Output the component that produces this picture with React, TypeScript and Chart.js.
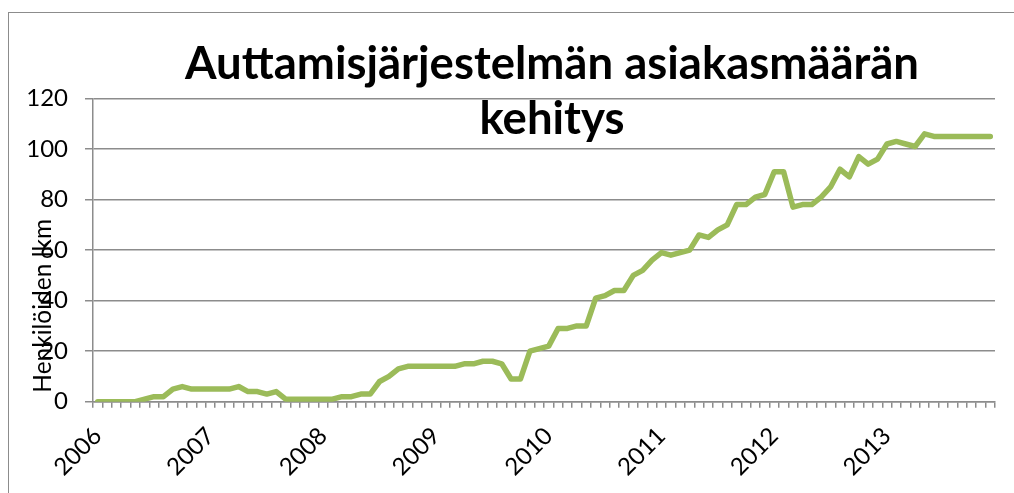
import React, { useEffect, useRef } from 'react';
import { Chart, registerables } from 'chart.js';

Chart.register(...registerables);

// ---- data ----
const years = ['2006', '2007', '2008', '2009', '2010', '2011', '2012', '2013'];
const monthNumbers = ['1', '2', '3', '4', '5', '6', '7', '8', '9', '10', '11', '12'];
const categories = years.flatMap((y) => monthNumbers.map((m) => `${m}/${y}`));

// monthly client counts, Jan 2006 .. Dec 2013
const clients = [
  0, 0, 0, 0, 0, 1, 2, 2, 5, 6, 5, 5,
  5, 5, 5, 6, 4, 4, 3, 4, 1, 1, 1, 1,
  1, 1, 2, 2, 3, 3, 8, 10, 13, 14, 14, 14,
  14, 14, 14, 15, 15, 16, 16, 15, 9, 9, 20, 21,
  22, 29, 29, 30, 30, 41, 42, 44, 44, 50, 52, 56,
  59, 58, 59, 60, 66, 65, 68, 70, 78, 78, 81, 82,
  91, 91, 77, 78, 78, 81, 85, 92, 89, 97, 94, 96,
  102, 103, 102, 101, 106, 105, 105, 105, 105, 105, 105, 105,
];

const titleLines = ['Auttamisjärjestelmän asiakasmäärän', 'kehitys'];
const yAxisTitle = 'Henkilöiden lkm';
const yMin = 0;
const yMax = 120;
const yStep = 20;

const FONT = 'Lato, "Open Sans", sans-serif';
const GRID = '#8c8c8c';
const LINE = '#9bbb59';

const layoutTweaks = {
  id: 'layoutTweaks',
  afterLayout(chart: any) {
    const tb = chart.titleBlock;
    if (tb) {
      tb.left += 8;
      tb.right += 8;
    }
  },
  beforeDraw(chart: any) {
    const s = chart.scales.y;
    if (s && !s._titleWrapped) {
      const orig = s.drawTitle.bind(s);
      s.drawTitle = () => {
        const c = chart.ctx;
        c.save();
        c.translate(0, -9);
        orig();
        c.restore();
      };
      s._titleWrapped = true;
    }
  },
};

export default function App() {
  const ref = useRef<HTMLCanvasElement | null>(null);

  useEffect(() => {
    if (!ref.current) return;
    const chart = new Chart(ref.current, {
      type: 'line',
      data: {
        labels: categories,
        datasets: [
          {
            label: yAxisTitle,
            data: clients,
            borderColor: LINE,
            backgroundColor: LINE,
            borderWidth: 5.5,
            pointRadius: 0,
            tension: 0,
            borderJoinStyle: 'round',
            borderCapStyle: 'round',
            fill: false,
          },
        ],
      },
      options: {
        animation: false,
        responsive: false,
        maintainAspectRatio: false,
        layout: { padding: { left: 0, top: 0, right: 19, bottom: 0 } },
        plugins: {
          legend: { display: false },
          tooltip: { enabled: false },
          title: {
            display: true,
            text: titleLines,
            color: '#000',
            fullSize: false,
            font: { family: FONT, size: 45.5, weight: 'bold', lineHeight: 1.2 },
            padding: { top: 37, bottom: -47.7 },
          },
        },
        scales: {
          x: {
            type: 'category',
            offset: true,
            grid: {
              display: true,
              drawOnChartArea: false,
              drawTicks: true,
              tickLength: 6,
              color: GRID,
              lineWidth: 1.5,
              offset: true,
            },
            border: { display: true, color: GRID, width: 1.5 },
            ticks: {
              autoSkip: false,
              maxRotation: 45,
              minRotation: 45,
              padding: 14,
              color: '#000',
              font: { family: FONT, size: 24 },
              callback: (_v: any, i: number) => (i % 12 === 0 ? years[i / 12] : ''),
            },
            afterFit: (s: any) => {
              s.height = 91.3;
              s.paddingLeft = 0;
              s.paddingRight = 0;
            },
          },
          y: {
            min: yMin,
            max: yMax,
            ticks: {
              stepSize: yStep,
              padding: 17,
              color: '#000',
              font: { family: FONT, size: 24 },
            },
            grid: { color: GRID, lineWidth: 1.5, tickLength: 8 },
            border: { display: true, color: GRID, width: 1.5 },
            title: {
              display: true,
              text: yAxisTitle,
              align: 'start',
              color: '#000',
              font: { family: FONT, size: 24.5 },
              padding: { top: 28, bottom: 0 },
            },
            afterFit: (s: any) => {
              s.width = 93;
            },
          },
        },
      },
      plugins: [layoutTweaks],
    } as any);
    return () => chart.destroy();
  }, []);

  return (
    <div
      style={{
        position: 'absolute',
        left: 0,
        top: 0,
        width: 1014,
        height: 493,
        overflow: 'hidden',
        background: '#fff',
      }}
    >
      <div
        style={{
          position: 'absolute',
          left: 8,
          top: 12,
          width: 1100,
          height: 700,
          border: '1.5px solid #8c8c8c',
          boxSizing: 'border-box',
        }}
      />
      <canvas ref={ref} width={1014} height={493} style={{ position: 'absolute', left: 0, top: 0 }} />
    </div>
  );
}
